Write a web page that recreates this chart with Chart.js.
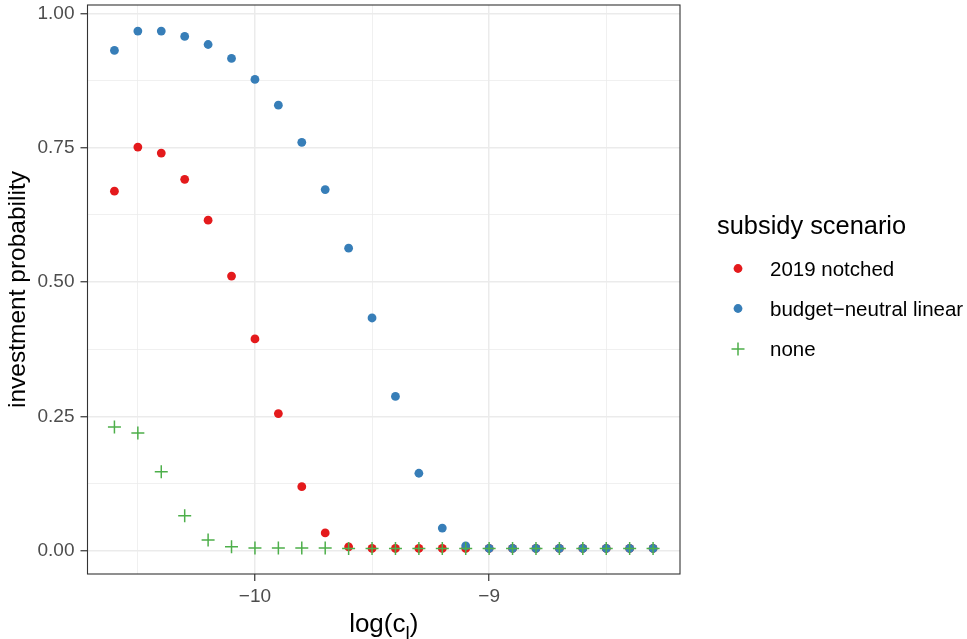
<!DOCTYPE html>
<html>
<head>
<meta charset="utf-8">
<script src="https://cdn.jsdelivr.net/npm/chart.js@4/dist/chart.umd.min.js"></script>
<style>
  html, body { margin: 0; padding: 0; background: #fff; }
  #wrap { position: relative; width: 967px; height: 639px; }
</style>
</head>
<body>
<div id="wrap"><canvas id="chart" width="967" height="639"></canvas></div>
<script>
// ========== data ==========

const xValues = [-10.6, -10.5, -10.4, -10.3, -10.2, -10.1, -10.0, -9.9, -9.8, -9.7, -9.6, -9.5,
                 -9.4, -9.3, -9.2, -9.1, -9.0, -8.9, -8.8, -8.7, -8.6, -8.5, -8.4, -8.3];

const notched = [0.669, 0.751, 0.740, 0.691, 0.615, 0.511, 0.394, 0.255, 0.119, 0.033, 0.007, 0.004,
                 0.004, 0.004, 0.004, 0.004, 0.004, 0.004, 0.004, 0.004, 0.004, 0.004, 0.004, 0.004];

const linear = [0.931, 0.967, 0.967, 0.957, 0.942, 0.916, 0.877, 0.829, 0.760, 0.672, 0.563, 0.433,
                0.287, 0.144, 0.042, 0.009, 0.004, 0.004, 0.004, 0.004, 0.004, 0.004, 0.004, 0.004];

const none = [0.230, 0.219, 0.147, 0.065, 0.020, 0.007, 0.005, 0.005, 0.005, 0.005, 0.004, 0.004,
              0.004, 0.004, 0.004, 0.004, 0.004, 0.004, 0.004, 0.004, 0.004, 0.004, 0.004, 0.004];

const seriesNames = ['2019 notched', 'budget\u2212neutral linear', 'none'];
const seriesColors = ['#E41A1C', '#377EB8', '#4DAF4A'];

const xTicks = [-10.5, -10, -9.5, -9, -8.5];
const xTickLabels = { '-10': '\u221210', '-9': '\u22129' };
const yTicks = [0, 0.125, 0.25, 0.375, 0.5, 0.625, 0.75, 0.875, 1];
const yTickLabels = { '0': '0.00', '0.25': '0.25', '0.5': '0.50', '0.75': '0.75', '1': '1.00' };

const FONT = '"Liberation Sans", Arial, Helvetica, sans-serif';

// ========== helpers ==========

function toPoints(ys) {
  return xValues.map((x, i) => ({ x: x, y: ys[i] }));
}

function isMajorX(v) { return xTickLabels[String(v)] !== undefined; }
function isMajorY(v) { return yTickLabels[String(v)] !== undefined; }

// panel border, axis titles and legend
const decorations = {
  id: 'decorations',
  afterDraw(chart) {
    const { ctx, chartArea: a } = chart;
    ctx.save();
    ctx.strokeStyle = '#333333';
    ctx.lineWidth = 1.1;
    ctx.strokeRect(a.left, a.top, a.right - a.left, a.bottom - a.top);

    // x title: log(c_l)
    ctx.fillStyle = '#000';
    ctx.textBaseline = 'alphabetic';
    ctx.textAlign = 'left';
    const main1 = 'log(c';
    const main2 = ')';
    ctx.font = '19px ' + FONT;
    const subW = ctx.measureText('l').width;
    ctx.font = '26px ' + FONT;
    const w1 = ctx.measureText(main1).width;
    const w2 = ctx.measureText(main2).width;
    const x0 = (a.left + a.right) / 2 - (w1 + subW + w2) / 2;
    const base = 632;
    ctx.fillText(main1, x0, base);
    ctx.fillText(main2, x0 + w1 + subW, base);
    ctx.font = '19px ' + FONT;
    ctx.fillText('l', x0 + w1, base + 7);

    // y title
    ctx.save();
    ctx.translate(25, (a.top + a.bottom) / 2);
    ctx.rotate(-Math.PI / 2);
    ctx.textAlign = 'center';
    ctx.font = '24.5px ' + FONT;
    ctx.fillText('investment probability', 0, 0);
    ctx.restore();

    // legend
    ctx.textAlign = 'left';
    ctx.textBaseline = 'middle';
    ctx.fillStyle = '#000';
    ctx.font = '25.4px ' + FONT;
    ctx.fillText('subsidy scenario', 717, 227);
    ctx.font = '20.5px ' + FONT;
    const rows = [269, 309, 349];
    seriesNames.forEach((name, i) => {
      const y = rows[i];
      if (i < 2) {
        ctx.fillStyle = seriesColors[i];
        ctx.beginPath();
        ctx.arc(738, y - 0.5, 4.4, 0, Math.PI * 2);
        ctx.fill();
      } else {
        ctx.strokeStyle = seriesColors[i];
        ctx.lineWidth = 1.5;
        ctx.beginPath();
        ctx.moveTo(731.5, y); ctx.lineTo(744.5, y);
        ctx.moveTo(738, y - 6.5); ctx.lineTo(738, y + 6.5);
        ctx.stroke();
      }
      ctx.fillStyle = '#000';
      ctx.fillText(name, 770, y + 1);
    });
    ctx.restore();
  }
};

// ========== chart ==========

const ctx = document.getElementById('chart').getContext('2d');

new Chart(ctx, {
  type: 'scatter',
  data: {
    datasets: [
      {
        label: seriesNames[0],
        data: toPoints(notched),
        backgroundColor: seriesColors[0],
        borderWidth: 0,
        pointRadius: 4.4,
        pointHoverRadius: 4.4,
        order: 3
      },
      {
        label: seriesNames[1],
        data: toPoints(linear),
        backgroundColor: seriesColors[1],
        borderWidth: 0,
        pointRadius: 4.4,
        pointHoverRadius: 4.4,
        order: 2
      },
      {
        label: seriesNames[2],
        data: toPoints(none),
        pointStyle: 'cross',
        borderColor: seriesColors[2],
        backgroundColor: seriesColors[2],
        borderWidth: 1.5,
        pointRadius: 6.5,
        pointHoverRadius: 6.5,
        order: 1
      }
    ]
  },
  options: {
    responsive: false,
    animation: false,
    events: [],
    layout: { autoPadding: false, padding: { top: 5, right: 287, bottom: 0, left: 0 } },
    plugins: {
      legend: { display: false },
      tooltip: { enabled: false }
    },
    scales: {
      x: {
        type: 'linear',
        min: -10.715,
        max: -8.185,
        afterBuildTicks: (axis) => { axis.ticks = xTicks.map(v => ({ value: v })); },
        afterFit: (axis) => {
          axis.height = 65;
          axis.paddingLeft = 0;
          axis.paddingRight = 0;
        },
        border: { display: false },
        grid: {
          color: '#EBEBEB',
          lineWidth: (c) => isMajorX(c.tick.value) ? 1.5 : 0.75,
          tickColor: (c) => isMajorX(c.tick.value) ? '#333333' : 'rgba(0,0,0,0)',
          tickLength: 7,
          tickWidth: 1.2
        },
        ticks: {
          autoSkip: false,
          maxRotation: 0,
          padding: 4,
          color: '#4D4D4D',
          font: { family: FONT, size: 19 },
          callback: (v) => xTickLabels[String(v)] || ''
        }
      },
      y: {
        type: 'linear',
        min: -0.0435,
        max: 1.0155,
        afterBuildTicks: (axis) => { axis.ticks = yTicks.map(v => ({ value: v })); },
        afterFit: (axis) => {
          axis.width = 87.5;
          axis.paddingTop = 0;
          axis.paddingBottom = 0;
        },
        border: { display: false },
        grid: {
          color: '#EBEBEB',
          lineWidth: (c) => isMajorY(c.tick.value) ? 1.5 : 0.75,
          tickColor: (c) => isMajorY(c.tick.value) ? '#333333' : 'rgba(0,0,0,0)',
          tickLength: 7,
          tickWidth: 1.2
        },
        ticks: {
          autoSkip: false,
          padding: 6,
          color: '#4D4D4D',
          font: { family: FONT, size: 19 },
          callback: (v) => yTickLabels[String(v)] || ''
        }
      }
    }
  },
  plugins: [decorations]
});
</script>
</body>
</html>
